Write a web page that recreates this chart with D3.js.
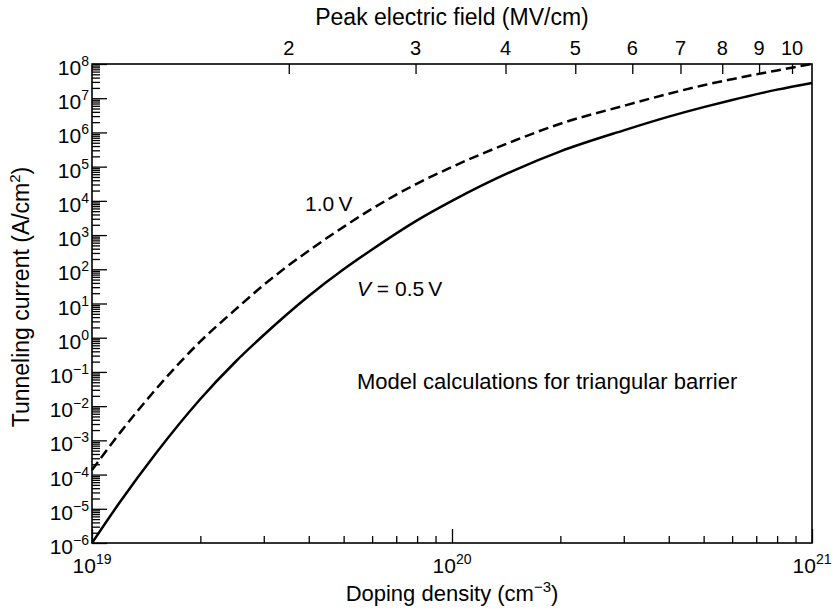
<!DOCTYPE html>
<html>
<head>
<meta charset="utf-8">
<script src="https://cdn.jsdelivr.net/npm/d3@7"></script>
<style>
  body { margin: 0; background: #fff; }
  svg { font-family: "Liberation Sans", Arial, sans-serif; }
</style>
</head>
<body>
<script>
const width = 834;
const height = 608;

// doping density (cm^-3)
const dopingDensity = [1e19, 1.2e19, 1.5e19, 2e19, 2.5e19, 3e19, 4e19, 5e19, 6e19, 8e19,
    1e20, 1.5e20, 2e20, 3e20, 4e20, 5e20, 6e20, 8e20, 1e21];
// tunneling current (A/cm^2), V = 0.5 V
const current05 = [1e-6, 1.66e-5, 4.0e-4, 1.62e-2, 0.195, 1.2, 16.6, 100, 380, 2.7e3,
    1.0e4, 8.1e4, 2.8e5, 1.15e6, 2.9e6, 5.5e6, 8.9e6, 1.78e7, 2.8e7];
// tunneling current (A/cm^2), V = 1.0 V
const current10 = [1.35e-4, 1.74e-3, 3.0e-2, 0.78, 6.6, 35, 350, 1.74e3, 5.9e3, 3.2e4,
    9.8e4, 5.9e5, 1.8e6, 6.0e6, 1.35e7, 2.4e7, 3.6e7, 6.5e7, 1.0e8];

const currentExps = [-6, -5, -4, -3, -2, -1, 0, 1, 2, 3, 4, 5, 6, 7, 8];
const densityExps = [19, 20, 21];
const fieldTicks = [2, 3, 4, 5, 6, 7, 8, 9, 10];
const fieldDomain = [1.066, 10.66];

const margin = {left: 92, right: 22, top: 64, bottom: 65};

const x = d3.scaleLog().domain([1e19, 1e21]).range([margin.left, width - margin.right]);
const y = d3.scaleLog().domain([1e-6, 1e8]).range([height - margin.bottom, margin.top]);
const xTop = d3.scaleLog().domain(fieldDomain).range(x.range());

const svg = d3.select("body").append("svg")
    .attr("width", width)
    .attr("height", height);

// minor tick values for a log scale
function minorTicks(exps) {
    const out = [];
    for (let i = 0; i < exps.length - 1; i++) {
        for (let k = 2; k <= 9; k++) out.push(k * Math.pow(10, exps[i]));
    }
    return out;
}

const yMajor = currentExps.map(e => Math.pow(10, e));
const xMajor = densityExps.map(e => Math.pow(10, e));

// left axis ticks (pointing inward)
svg.append("g")
    .attr("transform", `translate(${margin.left},0)`)
    .call(d3.axisRight(y).tickValues(yMajor).tickSize(15).tickFormat(""))
    .call(g => g.select(".domain").remove());
svg.append("g")
    .attr("transform", `translate(${margin.left},0)`)
    .call(d3.axisRight(y).tickValues(minorTicks(currentExps)).tickSize(8).tickFormat(""))
    .call(g => g.select(".domain").remove());

// bottom axis ticks
const yb = height - margin.bottom;
svg.append("g")
    .attr("transform", `translate(0,${yb})`)
    .call(d3.axisTop(x).tickValues(xMajor).tickSize(14).tickFormat(""))
    .call(g => g.select(".domain").remove());
svg.append("g")
    .attr("transform", `translate(0,${yb})`)
    .call(d3.axisTop(x).tickValues(minorTicks(densityExps)).tickSize(7).tickFormat(""))
    .call(g => g.select(".domain").remove());

// top axis (peak electric field)
svg.append("g")
    .attr("transform", `translate(0,${margin.top})`)
    .call(d3.axisBottom(xTop).tickValues(fieldTicks).tickSize(10).tickFormat(""))
    .call(g => g.select(".domain").remove());

svg.selectAll(".tick line").attr("stroke", "#000").attr("stroke-width", 1.3);

// frame
svg.append("rect")
    .attr("x", margin.left)
    .attr("y", margin.top)
    .attr("width", width - margin.left - margin.right)
    .attr("height", height - margin.top - margin.bottom)
    .attr("fill", "none")
    .attr("stroke", "#000")
    .attr("stroke-width", 1.6);

// power-of-ten label
function powLabel(sel, exp) {
    sel.append("tspan").text("10");
    sel.append("tspan")
        .attr("dy", -9)
        .attr("font-size", 14)
        .text(String(exp).replace("-", "\u2212"));
}

svg.append("g").selectAll("text")
    .data(currentExps)
    .join("text")
    .attr("x", margin.left - 3)
    .attr("y", d => y(Math.pow(10, d)) + 11)
    .attr("text-anchor", "end")
    .attr("font-size", 21)
    .each(function (d) { powLabel(d3.select(this), d); });

svg.append("g").selectAll("text")
    .data(densityExps)
    .join("text")
    .attr("x", d => x(Math.pow(10, d)))
    .attr("y", yb + 30)
    .attr("text-anchor", "middle")
    .attr("font-size", 21)
    .each(function (d) { powLabel(d3.select(this), d); });

svg.append("g").selectAll("text")
    .data(fieldTicks)
    .join("text")
    .attr("x", d => xTop(d))
    .attr("y", 55)
    .attr("text-anchor", "middle")
    .attr("font-size", 20)
    .text(d => d);

// axis titles
svg.append("text")
    .attr("x", (x.range()[0] + x.range()[1]) / 2)
    .attr("y", 25)
    .attr("text-anchor", "middle")
    .attr("font-size", 23)
    .text("Peak electric field (MV/cm)");

const bt = svg.append("text")
    .attr("x", (x.range()[0] + x.range()[1]) / 2)
    .attr("y", 601)
    .attr("text-anchor", "middle")
    .attr("font-size", 22);
bt.append("tspan").text("Doping density (cm");
bt.append("tspan").attr("dy", -9).attr("font-size", 15).text("\u22123");
bt.append("tspan").attr("dy", 9).text(")");

const lt = svg.append("text")
    .attr("transform", `translate(29,297) rotate(-90)`)
    .attr("text-anchor", "middle")
    .attr("font-size", 23);
lt.append("tspan").text("Tunneling current (A/cm");
lt.append("tspan").attr("dy", -9).attr("font-size", 15).text("2");
lt.append("tspan").attr("dy", 9).text(")");

// curves
const line = d3.line()
    .x(d => x(d[0]))
    .y(d => y(d[1]))
    .curve(d3.curveMonotoneX);

svg.append("path")
    .datum(dopingDensity.map((n, i) => [n, current05[i]]))
    .attr("d", line)
    .attr("fill", "none")
    .attr("stroke", "#000")
    .attr("stroke-width", 2.5);

svg.append("path")
    .datum(dopingDensity.map((n, i) => [n, current10[i]]))
    .attr("d", line)
    .attr("fill", "none")
    .attr("stroke", "#000")
    .attr("stroke-width", 2.5)
    .attr("stroke-dasharray", "10,5");

// annotations
svg.append("text")
    .attr("x", 305)
    .attr("y", 211)
    .attr("font-size", 21)
    .text("1.0\u2009V");

const vl = svg.append("text")
    .attr("x", 357)
    .attr("y", 296)
    .attr("font-size", 21);
vl.append("tspan").attr("font-style", "italic").text("V");
vl.append("tspan").text(" = 0.5\u2009V");

svg.append("text")
    .attr("x", 357)
    .attr("y", 389)
    .attr("font-size", 22)
    .text("Model calculations for triangular barrier");
</script>
</body>
</html>
